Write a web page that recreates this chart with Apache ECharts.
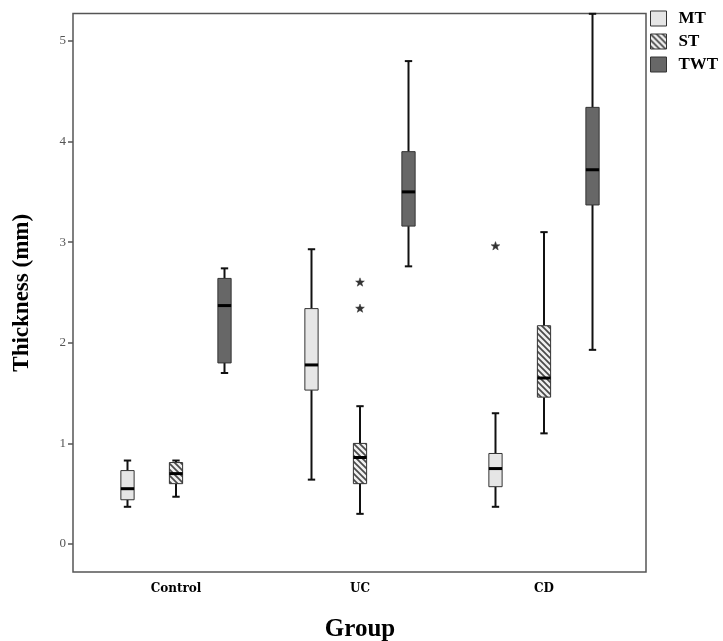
<!DOCTYPE html>
<html><head><meta charset="utf-8">
<script src="https://cdn.jsdelivr.net/npm/echarts@6/dist/echarts.min.js"></script>
<style>html,body{margin:0;padding:0;background:#fff}#c{width:723px;height:641px}</style>
</head><body><div id="c"></div>
<script>
// ---- data ----
const categories = ['Control', 'UC', 'CD'];
const seriesNames = ['MT', 'ST', 'TWT'];
// each entry: [min, Q1, median, Q3, max]
const mtStats  = [[0.37, 0.44, 0.55, 0.73, 0.83], [0.64, 1.53, 1.78, 2.34, 2.93], [0.37, 0.57, 0.75, 0.90, 1.30]];
const stStats  = [[0.47, 0.60, 0.70, 0.81, 0.83], [0.30, 0.60, 0.86, 1.00, 1.37], [1.10, 1.46, 1.65, 2.17, 3.10]];
const twtStats = [[1.70, 1.80, 2.37, 2.64, 2.74], [2.76, 3.16, 3.50, 3.90, 4.80], [1.93, 3.37, 3.72, 4.34, 5.27]];
const mtOutliers  = [['CD', 2.96]];
const stOutliers  = [['UC', 2.60], ['UC', 2.34]];
const twtOutliers = [];
const yTicks = [0, 1, 2, 3, 4, 5];

// ---- styling ----
const FONT = 'Liberation Serif, DejaVu Serif, serif';
const WIDEFONT = 'DejaVu Serif, Liberation Serif, serif';
const boxOffsets = [-0.2636, 0, 0.2636];
const boxWidthFrac = 0.072;
const capWidthFrac = 0.04;

function hatch() {
  const s = 6;
  const c = document.createElement('canvas');
  c.width = s; c.height = s;
  const g = c.getContext('2d');
  g.fillStyle = '#efefef'; g.fillRect(0, 0, s, s);
  g.strokeStyle = '#4a4a4a'; g.lineWidth = 1.7;
  g.beginPath();
  g.moveTo(-1, -1); g.lineTo(s + 1, s + 1);
  g.moveTo(-1, s - 1); g.lineTo(1, s + 1);
  g.moveTo(s - 1, -1); g.lineTo(s + 1, 1);
  g.stroke();
  return { image: c, repeat: 'repeat' };
}
const fills = ['#e6e6e6', hatch(), '#676767'];
const statsList = [mtStats, stStats, twtStats];
const outlierList = [mtOutliers, stOutliers, twtOutliers];

function boxRender(k) {
  return function (params, api) {
    const band = api.size([1, 0])[0];
    const cat = api.value(0);
    const cx = api.coord([cat, 0])[0] + boxOffsets[k] * band;
    const hw = band * boxWidthFrac / 2, cw = band * capWidthFrac / 2;
    const Y = i => api.coord([cat, api.value(i)])[1];
    const yMin = Y(1), yQ1 = Y(2), yMed = Y(3), yQ3 = Y(4), yMax = Y(5);
    const wl = { stroke: '#111', lineWidth: 2 };
    return { type: 'group', children: [
      { type: 'line', shape: { x1: cx, y1: yMax, x2: cx, y2: yQ3 }, style: wl },
      { type: 'line', shape: { x1: cx, y1: yQ1, x2: cx, y2: yMin }, style: wl },
      { type: 'line', shape: { x1: cx - cw, y1: yMax, x2: cx + cw, y2: yMax }, style: wl },
      { type: 'line', shape: { x1: cx - cw, y1: yMin, x2: cx + cw, y2: yMin }, style: wl },
      { type: 'rect', shape: { x: cx - hw, y: yQ3, width: 2 * hw, height: yQ1 - yQ3 },
        style: { fill: fills[k], stroke: '#333', lineWidth: 1 } },
      { type: 'line', shape: { x1: cx - hw, y1: yMed, x2: cx + hw, y2: yMed }, style: { stroke: '#000', lineWidth: 3 } }
    ]};
  };
}
function starRender(k) {
  return function (params, api) {
    const band = api.size([1, 0])[0];
    const p = api.coord([api.value(0), api.value(1)]);
    const cx = p[0] + boxOffsets[k] * band, cy = p[1];
    const pts = [];
    for (let i = 0; i < 10; i++) {
      const r = i % 2 === 0 ? 4.6 : 1.9;
      const a = -Math.PI / 2 + i * Math.PI / 5;
      pts.push([cx + r * Math.cos(a), cy + r * Math.sin(a)]);
    }
    return { type: 'polygon', shape: { points: pts }, style: { fill: '#333', stroke: '#333', lineWidth: 0.5 } };
  };
}

const series = [];
seriesNames.forEach((name, k) => {
  series.push({
    name: name, type: 'custom', xAxisIndex: 0, yAxisIndex: 0,
    itemStyle: { color: fills[k], borderColor: '#333', borderWidth: 1 },
    encode: { x: 0, y: [1, 2, 3, 4, 5] },
    data: statsList[k].map((s, i) => [i].concat(s)),
    renderItem: boxRender(k)
  });
});
seriesNames.forEach((name, k) => {
  if (!outlierList[k].length) return;
  series.push({
    name: name + ' outliers', type: 'custom', xAxisIndex: 0, yAxisIndex: 0,
    encode: { x: 0, y: 1 },
    data: outlierList[k],
    renderItem: starRender(k)
  });
});

const chart = echarts.init(document.getElementById('c'));
chart.setOption({
  animation: false,
  backgroundColor: '#fff',
  grid: [
    { left: 84, right: 87, top: 13.5, bottom: 69, outerBoundsMode: 'none' },
    { left: 73, right: 77, top: 13.5, bottom: 69, show: true, borderColor: '#555', borderWidth: 1.5,
      backgroundColor: 'transparent', outerBoundsMode: 'none' }
  ],
  xAxis: [
    { type: 'category', gridIndex: 0, data: categories,
      axisLine: { show: false },
      axisTick: { alignWithLabel: true, length: 5, lineStyle: { color: '#555', width: 1.5 } },
      axisLabel: { color: '#000', fontFamily: WIDEFONT, fontWeight: 'bold', fontSize: 12, margin: 11 },
      name: 'Group', nameLocation: 'middle', nameGap: 45,
      nameTextStyle: { color: '#000', fontFamily: FONT, fontWeight: 'bold', fontSize: 25 } },
    { type: 'value', gridIndex: 1, show: false }
  ],
  yAxis: [
    { type: 'value', gridIndex: 0, min: -0.278, max: 5.273, offset: 11,
      axisLine: { show: false },
      splitLine: { show: false },
      axisTick: { show: true, length: 5, customValues: yTicks, lineStyle: { color: '#555', width: 1.5 } },
      axisLabel: { customValues: yTicks, color: '#555', fontFamily: FONT, fontSize: 13, margin: 7 },
      name: 'Thickness (mm)', nameLocation: 'middle', nameGap: 39,
      nameTextStyle: { color: '#000', fontFamily: FONT, fontWeight: 'bold', fontSize: 23 } },
    { type: 'value', gridIndex: 1, show: false }
  ],
  legend: {
    orient: 'vertical', left: 650, top: 10, padding: 0,
    itemWidth: 16, itemHeight: 15, itemGap: 6,
    textStyle: { color: '#000', fontFamily: FONT, fontWeight: 'bold', fontSize: 17, padding: [0, 0, 0, 7] },
    selectedMode: false,
    data: seriesNames.map((n, k) => ({ name: n, icon: 'rect',
      itemStyle: { color: fills[k], borderColor: '#333', borderWidth: 1 } }))
  },
  series: series
});
</script>
</body></html>
